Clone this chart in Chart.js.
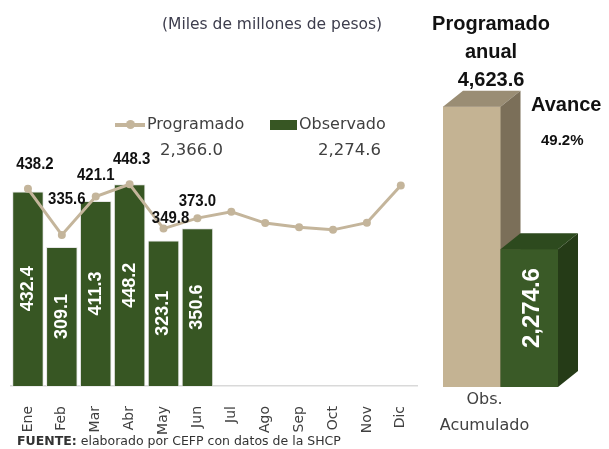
<!DOCTYPE html>
<html>
<head>
<meta charset="utf-8">
<script src="https://cdn.jsdelivr.net/npm/chart.js@4.4.0/dist/chart.umd.min.js"></script>
<style>
  body { margin: 0; width: 609px; height: 449px; position: relative; overflow: hidden; background: #fff; font-family: "DejaVu Sans", sans-serif; color: #404040; }
  .t { position: absolute; white-space: nowrap; }
  .b { font-family: "Liberation Sans", Arial, sans-serif; font-weight: bold; color: #111; }
  #left { position: absolute; left: 0; top: 0; }
  #right { position: absolute; left: 430px; top: 0; }
</style>
</head>
<body>
<canvas id="left" width="430" height="449"></canvas>
<canvas id="right" width="179" height="449"></canvas>

<div class="t" style="left:162px;top:15px;font-size:15.5px;color:#3d3d4d">(Miles de millones de pesos)</div>

<!-- leyenda -->
<div class="t" style="left:115px;top:123px;width:30px;height:4px;background:#c4b59b"></div>
<div class="t" style="left:126px;top:120px;width:9px;height:9px;border-radius:50%;background:#c4b59b"></div>
<div class="t" id="lgProg" style="left:147px;top:114px;font-size:16px"></div>
<div class="t" id="totProg" style="left:160px;top:140px;font-size:16.5px"></div>
<div class="t" style="left:270px;top:120px;width:27px;height:10px;background:#375623"></div>
<div class="t" id="lgObs" style="left:299px;top:114px;font-size:16px"></div>
<div class="t" id="totObs" style="left:318px;top:140px;font-size:16.5px"></div>

<div class="t" style="left:17px;top:433px;font-size:12.5px;color:#333"><b>FUENTE:</b> elaborado por CEFP con datos de la SHCP</div>

<!-- panel derecho -->
<div class="t b" style="left:431px;top:9px;font-size:20px;text-align:center;width:120px;line-height:28px" id="anualTxt"></div>
<div class="t b" id="avTxt" style="left:531px;top:93px;font-size:20px"></div>
<div class="t b" id="avPct" style="left:541px;top:131px;font-size:15px"></div>

<script>
// datos (miles de millones de pesos)
const months = ['Ene','Feb','Mar','Abr','May','Jun','Jul','Ago','Sep','Oct','Nov','Dic'];
const programado = [438.2, 335.6, 421.1, 448.3, 349.8, 373.0, 387.0, 362.0, 353.0, 347.0, 363.0, 445.6];
const observado  = [432.4, 309.1, 411.3, 448.2, 323.1, 350.6];
const seriesNames = ['Programado', 'Observado'];
const totalProgramado = 2366.0;
const totalObservado = 2274.6;

const resumenLabels = [['Obs.', 'Acumulado']];
const programadoAnual = [4623.6];
const observadoAcum = [2274.6];
const avance = 49.2;

const fmt = v => v.toLocaleString('en-US', { minimumFractionDigits: 1, maximumFractionDigits: 1 });

document.getElementById('lgProg').textContent = seriesNames[0];
document.getElementById('lgObs').textContent = seriesNames[1];
document.getElementById('totProg').textContent = fmt(totalProgramado);
document.getElementById('totObs').textContent = fmt(totalObservado);
document.getElementById('anualTxt').innerHTML = 'Programado<br>anual<br>' + fmt(programadoAnual[0]);
document.getElementById('avTxt').textContent = 'Avance';
document.getElementById('avPct').textContent = avance.toFixed(1) + '%';

const GREEN = '#375623';
const TAN = '#c4b59b';

// desplazamiento de las etiquetas de la linea (x, y) para que no choquen
const lineLabelShift = [[7,-24],[5,-36],[0,-21],[2,-25],[7,-10],[0,-17]];

const valueLabels = {
  id: 'valueLabels',
  afterDatasetsDraw(chart) {
    const ctx = chart.ctx;
    // numeros dentro de las barras
    const bars = chart.getDatasetMeta(1).data;
    ctx.save();
    ctx.fillStyle = '#fff';
    ctx.font = 'bold 18px "Liberation Sans", Arial, sans-serif';
    ctx.textAlign = 'center';
    ctx.textBaseline = 'middle';
    bars.forEach((b, i) => {
      ctx.save();
      ctx.translate(b.x, (b.y + b.base) / 2);
      ctx.rotate(-Math.PI / 2);
      ctx.fillText(observado[i].toFixed(1), 0, 0);
      ctx.restore();
    });
    // numeros sobre la linea (letra algo angosta)
    const pts = chart.getDatasetMeta(0).data;
    ctx.fillStyle = '#111';
    ctx.font = 'bold 17px "Liberation Sans", Arial, sans-serif';
    for (let i = 0; i < observado.length; i++) {
      const p = pts[i], s = lineLabelShift[i];
      ctx.save();
      ctx.translate(p.x + s[0], p.y + s[1]);
      ctx.scale(0.88, 1);
      ctx.fillText(programado[i].toFixed(1), 0, 0);
      ctx.restore();
    }
    ctx.restore();
  }
};

new Chart(document.getElementById('left'), {
  type: 'bar',
  data: {
    labels: months,
    datasets: [
      {
        type: 'line', label: seriesNames[0], data: programado, order: 0,
        borderColor: TAN, backgroundColor: TAN, borderWidth: 3,
        pointRadius: 4, pointBackgroundColor: TAN, pointBorderWidth: 0, tension: 0
      },
      {
        label: seriesNames[1], data: observado, order: 1,
        backgroundColor: GREEN, borderColor: '#e6e6e6', borderWidth: 1,
        barPercentage: 0.93, categoryPercentage: 1
      }
    ]
  },
  options: {
    responsive: false,
    animation: false,
    layout: { padding: { left: 11, right: 10, top: 161, bottom: 0 } },
    plugins: { legend: { display: false }, tooltip: { enabled: false } },
    scales: {
      x: {
        grid: { display: false },
        border: { display: true, color: '#d9d9d9', width: 1.5 },
        ticks: { color: '#404040', font: { family: 'DejaVu Sans', size: 14 }, minRotation: 90, maxRotation: 90, padding: 12, autoSkip: false },
        afterFit: axis => { axis.height = 63; }
      },
      y: { display: false, min: 0, max: 500 }
    }
  },
  plugins: [valueLabels]
});

// barras en 3D del resumen
const DX = 20, DY = 16;
const faces = [
  { front: '#c4b393', top: '#9a8d74', side: '#7b6f59' },
  { front: '#3a5a27', top: '#2d4a1e', side: '#253b17' }
];

const bars3d = {
  id: 'bars3d',
  afterDatasetsDraw(chart) {
    const ctx = chart.ctx;
    ctx.save();
    chart.data.datasets.forEach((ds, di) => {
      const b = chart.getDatasetMeta(di).data[0];
      const l = b.x - b.width / 2, r = b.x + b.width / 2, t = b.y, base = b.base;
      const c = faces[di];
      ctx.fillStyle = c.front;
      ctx.fillRect(l, t, r - l, base - t);
      ctx.fillStyle = c.top;
      ctx.beginPath();
      ctx.moveTo(l, t); ctx.lineTo(l + DX, t - DY); ctx.lineTo(r + DX, t - DY); ctx.lineTo(r, t);
      ctx.closePath(); ctx.fill();
      ctx.fillStyle = c.side;
      ctx.beginPath();
      ctx.moveTo(r, t); ctx.lineTo(r + DX, t - DY); ctx.lineTo(r + DX, base - DY); ctx.lineTo(r, base);
      ctx.closePath(); ctx.fill();
    });
    // etiqueta dentro de la barra verde
    const g = chart.getDatasetMeta(1).data[0];
    ctx.translate(g.x + 3, (g.y + g.base) / 2 - 10);
    ctx.rotate(-Math.PI / 2);
    ctx.fillStyle = '#fff';
    ctx.font = 'bold 24px "Liberation Sans", Arial, sans-serif';
    ctx.textAlign = 'center';
    ctx.textBaseline = 'middle';
    ctx.fillText(fmt(observadoAcum[0]), 0, 0);
    ctx.restore();
  }
};

new Chart(document.getElementById('right'), {
  type: 'bar',
  data: {
    labels: resumenLabels,
    datasets: [
      { label: 'Programado anual', data: programadoAnual, backgroundColor: faces[0].front, borderWidth: 0 },
      { label: 'Obs. Acumulado', data: observadoAcum, backgroundColor: faces[1].front, borderWidth: 0 }
    ]
  },
  options: {
    responsive: false,
    animation: false,
    layout: { padding: { left: 13, right: 51, top: 84, bottom: 0 } },
    datasets: { bar: { barPercentage: 1, categoryPercentage: 1 } },
    plugins: { legend: { display: false }, tooltip: { enabled: false } },
    scales: {
      x: {
        grid: { display: false },
        border: { display: false },
        ticks: { color: '#404040', font: { family: 'DejaVu Sans', size: 16, lineHeight: 1.6 }, padding: -8, labelOffset: -16, maxRotation: 0 },
        afterFit: axis => { axis.height = 62; }
      },
      y: { display: false, min: 0, max: 5000 }
    }
  },
  plugins: [bars3d]
});
</script>
</body>
</html>
